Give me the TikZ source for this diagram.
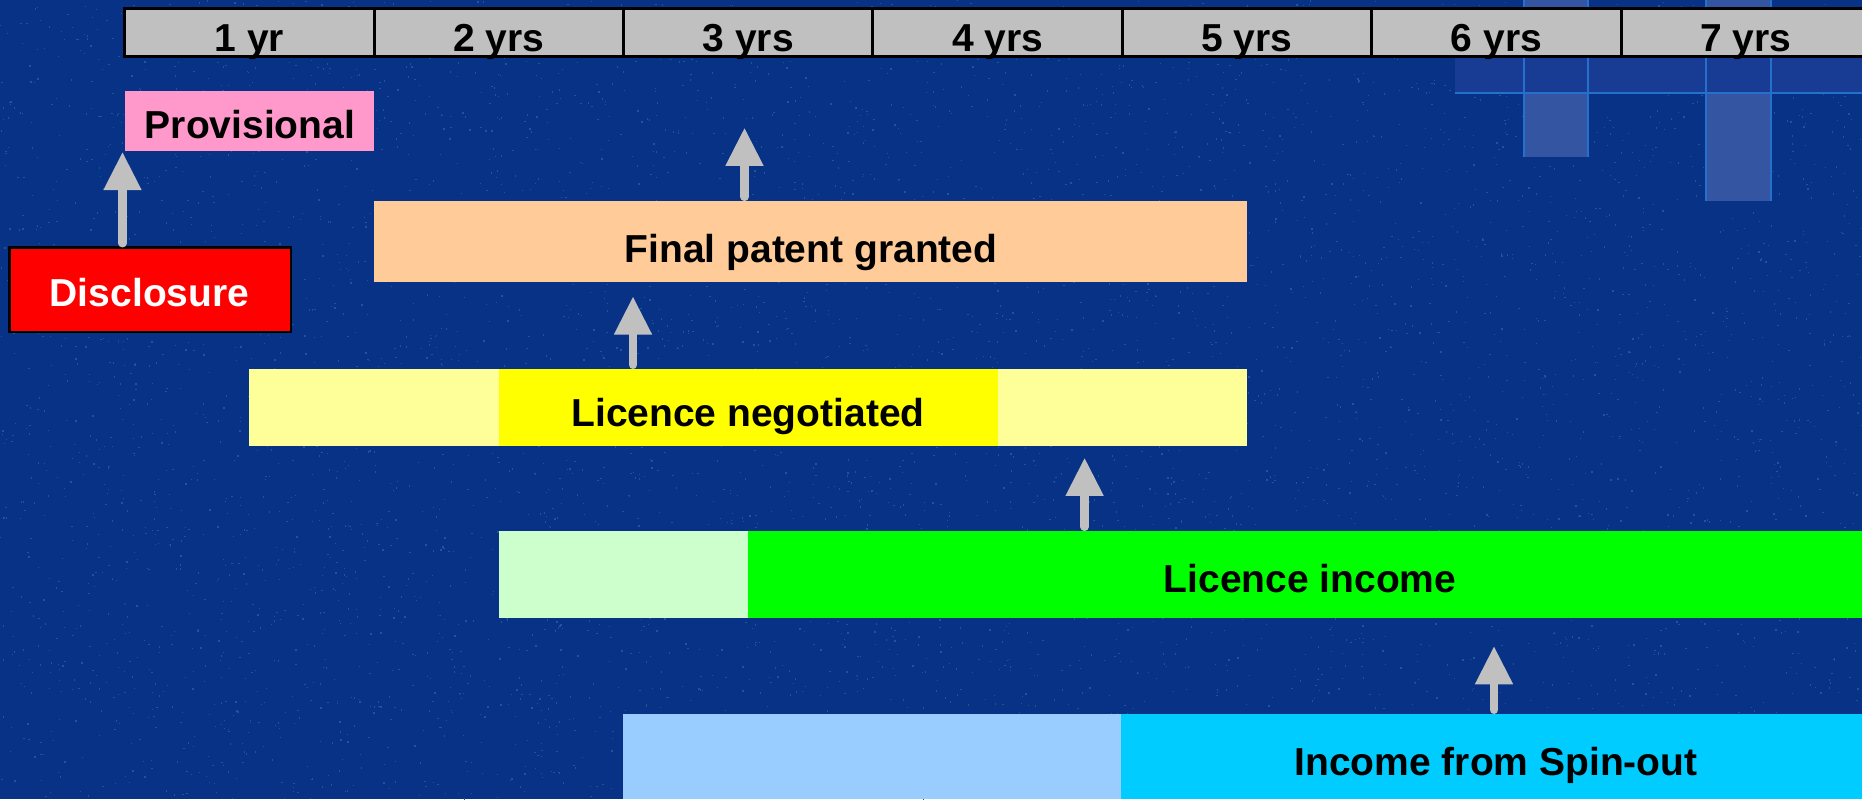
\documentclass[tikz,border=0pt]{standalone}
\usepackage{fontspec}
\setmainfont{Liberation Sans}
\usetikzlibrary{arrows.meta,fit}

\definecolor{bg}{RGB}{7,50,134}
\definecolor{speck}{RGB}{26,88,150}
\definecolor{decoband}{RGB}{24,60,148}
\definecolor{decofill}{RGB}{52,86,162}
\definecolor{decoedge}{RGB}{38,112,205}
\definecolor{scale}{HTML}{C0C0C0}
\definecolor{arrowgrey}{HTML}{C0C0C0}
\definecolor{provpink}{HTML}{FF99CC}
\definecolor{peach}{HTML}{FFCC99}
\definecolor{paleyellow}{HTML}{FFFF99}
\definecolor{yellowcore}{HTML}{FFFF00}
\definecolor{palegreen}{HTML}{CCFFCC}
\definecolor{brightgreen}{HTML}{00FF00}
\definecolor{paleblue}{HTML}{99CCFF}
\definecolor{brightcyan}{HTML}{00CCFF}

\begin{document}
\begin{tikzpicture}[x=0.5pt,y=-0.5pt,
  bar/.style={inner sep=0pt, outer sep=0pt, draw=none},
  lbl/.style={font=\fontsize{19.5}{23}\selectfont\bfseries, text=black,
              inner sep=0pt, anchor=base},
  uparrow/.style={draw=arrowgrey, line width=4.25pt, line cap=round,
              shorten <=2.1pt,
              -{Triangle[width=19.2pt,length=18.8pt,line width=0pt]}}]

\useasboundingbox (0,0) rectangle (1862,799);
\clip (0,0) rectangle (1862,799);

% textured backdrop
\fill[bg] (0,0) rectangle (1862,799);
\pgfmathsetseed{4242}
\foreach \i in {1,...,6000}{
  \pgfmathsetmacro\rx{rnd*1862}
  \pgfmathsetmacro\ry{rnd*799}
  \fill[speck] (\rx,\ry) rectangle ++(1.3,1.3);
}

% faint squares in the upper right corner
\fill[decofill] (1524,0) rectangle (1588,157);
\fill[decofill] (1706,0) rectangle (1771,201);
\fill[decoband] (1455,57) rectangle (1862,93);
\draw[decoedge, line width=0.9pt] (1455,93) -- (1862,93);
\draw[decoedge, line width=0.7pt] (1524,0) -- (1524,157) (1588,157) -- (1588,0);
\draw[decoedge, line width=0.7pt] (1706,0) -- (1706,201) (1771,201) -- (1771,0);

% year scale
\node[bar, fill=scale, draw=black, line width=1.5pt,
      fit={(124.7,8.5) (1872,56)}] (years) {};
\foreach \xb in {374.1,623.5,872.9,1122.3,1371.7,1621.1}
  \draw[black, line width=1.5pt] (\xb,8.5) -- (\xb,56);
\foreach \cx/\t in {249.4/1 yr,498.8/2 yrs,748.2/3 yrs,997.6/4 yrs,
                    1247/5 yrs,1496.4/6 yrs,1745.8/7 yrs}
  \node[lbl] at (\cx,51) {\t};

% provisional filing
\node[bar, fill=provpink, fit={(124.7,91) (374.1,151)}] (prov) {};
\node[lbl] (provtxt) at (250,138.3) {Provisional};

% disclosure
\node[bar, fill=red, draw=black, line width=1.4pt,
      fit={(9.7,247.4) (291,332)}] (disc) {};
\node[lbl, text=white] (disctxt) at (149.5,306.7) {Disclosure};

% final patent
\node[bar, fill=peach, fit={(374.1,201) (1247,281.5)}] (fin) {};
\node[lbl] (fintxt) at (811,262) {Final patent granted};

% licence negotiation
\node[bar, fill=paleyellow, fit={(249.4,369) (1247,446)}] (neg) {};
\node[bar, fill=yellowcore, fit={(498.8,369) (997.6,446)}] (negcore) {};
\node[lbl] (negtxt) at (748,426) {Licence negotiated};

% licence income
\node[bar, fill=brightgreen, fit={(498.8,531) (1862,617.7)}] (inc) {};
\node[bar, fill=palegreen, fit={(498.8,531) (748.2,617.7)}] (incearly) {};
\node[lbl] (inctxt) at (1310,592.7) {Licence income};

% spin-out income
\node[bar, fill=brightcyan, fit={(623.4,714) (1862,799)}] (spin) {};
\node[bar, fill=paleblue, fit={(623.4,714) (1121,799)}] (spinearly) {};
\node[lbl] (spintxt) at (1496,775) {Income from Spin-out};

% arrow tips
\coordinate (t1) at (122.5,152.5);
\coordinate (t2) at (744.5,128.3);
\coordinate (t3) at (633,297);
\coordinate (t4) at (1084.6,458.3);
\coordinate (t5) at (1494,646.7);

% progress arrows
\draw[uparrow] (t1 |- disc.north) -- (t1);
\draw[uparrow] (t2 |- fin.north) -- (t2);
\draw[uparrow] (t3 |- neg.north) -- (t3);
\draw[uparrow] (t4 |- inc.north) -- (t4);
\draw[uparrow] (t5 |- spin.north) -- (t5);
\end{tikzpicture}
\end{document}
